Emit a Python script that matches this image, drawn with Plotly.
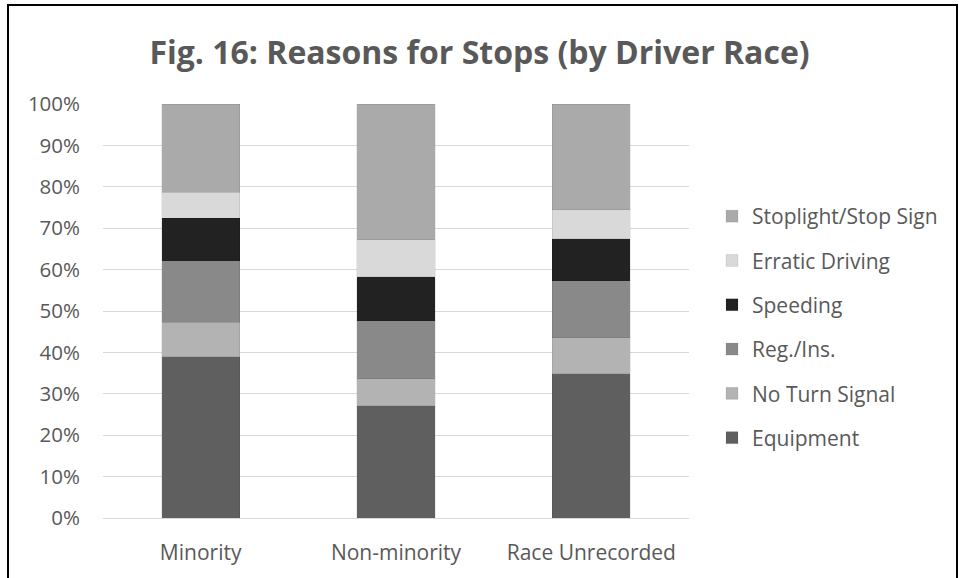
import plotly.graph_objects as go

categories = ["Minority", "Non-minority", "Race Unrecorded"]

equipment = [39.0, 27.1, 34.9]
no_turn_signal = [8.3, 6.5, 8.7]
reg_ins = [14.8, 14.1, 13.7]
speeding = [10.3, 10.6, 10.2]
erratic_driving = [6.3, 8.9, 6.9]
stoplight_stop_sign = [21.3, 32.8, 25.6]

series_names = ["Equipment", "No Turn Signal", "Reg./Ins.", "Speeding",
                "Erratic Driving", "Stoplight/Stop Sign"]
series_values = [equipment, no_turn_signal, reg_ins, speeding,
                 erratic_driving, stoplight_stop_sign]
series_colors = ["#5f5f5f", "#b3b3b3", "#898989", "#222222", "#d9d9d9", "#aaaaaa"]

tick_vals = [0, 10, 20, 30, 40, 50, 60, 70, 80, 90, 100]
tick_text = ["0%", "10%", "20%", "30%", "40%", "50%", "60%", "70%", "80%", "90%", "100%"]

FONT = "Open Sans"
TXT = "#595959"

fig = go.Figure()
n = len(series_names)
for i, (name, vals, col) in enumerate(zip(series_names, series_values, series_colors)):
    fig.add_trace(go.Bar(
        x=categories, y=vals, name=name, legendgroup=name,
        legendrank=100 + (n - 1 - i),
        marker=dict(color=col, line=dict(width=0.5, color="rgba(0,0,0,0.15)")),
        hoverinfo="x+y+name",
    ))

W, H = 959, 578
L, R, T, B = 103, 959 - 689, 104, 578 - 518
pw, ph = W - L - R, H - T - B

def px(xp):
    return (xp - L) / pw

def py(yp):
    return (H - B - yp) / ph

fig.update_layout(
    width=W, height=H,
    margin=dict(l=L, r=R, t=T, b=B, pad=0),
    barmode="stack",
    bargap=0.6,
    plot_bgcolor="white",
    paper_bgcolor="white",
    font=dict(family=FONT, color=TXT, size=21),
    title=dict(
        text="<b>Fig. 16: Reasons for Stops (by Driver Race)</b>",
        x=0.5, xanchor="center", xref="container",
        y=1 - 53 / H, yanchor="middle", yref="container",
        font=dict(family=FONT, size=32, color=TXT),
    ),
    xaxis=dict(
        showgrid=False, showline=True, linecolor="#d9d9d9", linewidth=1,
        ticks="", tickfont=dict(size=21, color=TXT), ticklabelstandoff=16,
        range=[-0.5, 2.5],
    ),
    yaxis=dict(
        range=[0, 100], tickvals=tick_vals, ticktext=tick_text,
        showgrid=True, gridcolor="#d9d9d9", gridwidth=1,
        zeroline=False, showline=False, ticks="",
        tickfont=dict(size=20.5, color=TXT), ticklabelstandoff=22,
    ),
    legend=dict(
        x=px(712), xanchor="left", y=py(327), yanchor="middle",
        traceorder="grouped", tracegroupgap=14,
        font=dict(size=21, color=TXT), itemwidth=30,
        bgcolor="rgba(0,0,0,0)",
    ),
    shapes=[dict(
        type="rect", xref="paper", yref="paper",
        x0=px(8), x1=px(957), y0=py(600), y1=py(5),
        line=dict(color="black", width=2), fillcolor="rgba(0,0,0,0)",
        layer="above",
    )],
)

fig.write_html("out.html", config={"displayModeBar": False},
               post_script="document.body.style.margin='0';document.body.style.overflow='hidden';")
